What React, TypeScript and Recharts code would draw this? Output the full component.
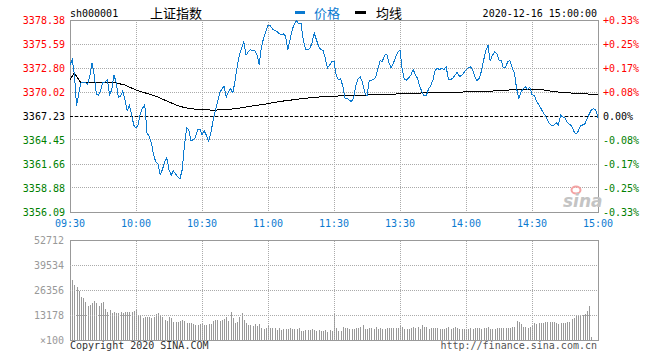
import {
  LineChart,
  Line,
  ComposedChart,
  Bar,
  XAxis,
  YAxis,
  CartesianGrid,
  ReferenceLine,
  ReferenceArea
} from 'recharts'

const MONO = '"DejaVu Sans Mono", monospace'
const CJK = '"Noto Sans CJK SC", sans-serif'
const BLUE = '#0b7ad0'
const RED = '#ff0000'
const GREEN = '#008000'
const GRID = '#aaa'
const FRAME = '#999'

const PREV_CLOSE = 3367.23

// minute index: 0 = 09:30, 120 = 11:30 / 13:00, 240 = 15:00
const TIME_TICKS = [0, 30, 60, 90, 120, 150, 180, 210, 240]
const TIME_LABELS = ['09:30', '10:00', '10:30', '11:00', '11:30', '13:30', '14:00', '14:30', '15:00']

const PRICE_TICKS = [3356.09, 3358.88, 3361.66, 3364.45, 3367.23, 3370.02, 3372.8, 3375.59, 3378.38]
const PCT_LABELS = ['-0.33%', '-0.25%', '-0.17%', '-0.08%', '0.00%', '+0.08%', '+0.17%', '+0.25%', '+0.33%']

const VOL_TICKS = [0, 13178, 26356, 39534, 52712]
const VOL_LABELS = ['×100', '13178', '26356', '39534', '52712']

const PRICE = [
  3373.19, 3373.77, 3372.03, 3368.4, 3369.91, 3371.07, 3371.18, 3371.18, 3370.87, 3371.84,
  3373.39, 3372.03, 3369.71, 3369.64, 3370.29, 3371.18, 3371.18, 3371.45, 3369.71, 3370.29,
  3372.03, 3371.07, 3369.41, 3369.52, 3370.17, 3369.13, 3367.85, 3368.43, 3367.39, 3366.16,
  3365.84, 3366.22, 3367.58, 3368.16, 3368.55, 3365.26, 3364.88, 3364.1, 3362.74, 3361.89,
  3361.66, 3360.42, 3361.0, 3361.89, 3362.36, 3361.0, 3360.35, 3360.88, 3360.5, 3360.19,
  3359.96, 3361.0, 3363.72, 3365.84, 3365.64, 3364.37, 3364.48, 3364.76, 3365.64, 3365.73,
  3365.06, 3365.53, 3364.99, 3364.3, 3365.26, 3366.62, 3367.85, 3368.74, 3369.91, 3370.37,
  3370.68, 3369.41, 3370.02, 3370.4, 3369.91, 3371.26, 3373.0, 3374.35, 3375.13, 3375.91,
  3374.28, 3374.66, 3374.93, 3374.82, 3374.86, 3374.35, 3373.19, 3375.21, 3376.29, 3376.99,
  3377.76, 3377.76, 3377.34, 3377.14, 3377.07, 3376.79, 3376.67, 3376.75, 3376.49, 3374.93,
  3376.09, 3377.25, 3377.92, 3378.3, 3377.92, 3378.03, 3376.09, 3375.01, 3374.93, 3375.05,
  3375.71, 3376.87, 3376.09, 3375.33, 3374.93, 3374.86, 3373.97, 3372.81, 3373.12, 3373.59,
  3373.59, 3371.96, 3371.45, 3371.57, 3370.68, 3369.32, 3369.32, 3369.01, 3368.94, 3369.41,
  3370.87, 3371.57, 3371.76, 3371.07, 3369.91, 3369.52, 3371.38, 3371.41, 3371.45, 3371.8,
  3372.81, 3373.65, 3373.59, 3374.28, 3374.4, 3373.39, 3372.81, 3373.39, 3374.05, 3374.66,
  3374.93, 3372.61, 3371.45, 3371.41, 3371.65, 3372.03, 3372.61, 3372.03, 3371.57, 3370.68,
  3370.02, 3369.59, 3369.64, 3370.4, 3370.75, 3371.45, 3372.54, 3372.77, 3372.61, 3372.81,
  3372.61, 3372.96, 3371.45, 3371.45, 3371.65, 3371.99, 3372.31, 3371.84, 3371.91, 3372.26,
  3372.61, 3372.84, 3372.96, 3372.61, 3371.84, 3371.33, 3371.61, 3372.42, 3373.7, 3374.82,
  3375.44, 3373.59, 3374.28, 3374.66, 3374.47, 3373.74, 3373.65, 3372.81, 3372.92, 3373.54,
  3373.65, 3372.81, 3372.23, 3370.4, 3369.32, 3370.02, 3370.4, 3370.6, 3370.33, 3370.6,
  3369.71, 3369.64, 3369.01, 3368.55, 3368.16, 3367.66, 3367.32, 3366.81, 3366.34, 3366.07,
  3366.16, 3366.46, 3366.22, 3367.35, 3367.12, 3367.0, 3366.54, 3366.27, 3366.11, 3365.46,
  3365.15, 3365.46, 3366.07, 3366.19, 3366.31, 3366.89, 3367.47, 3367.97, 3368.08, 3367.93,
  3367.0
]

const AVG_MIN = [
  0, 2, 5, 10, 15, 20, 25, 30, 35, 40, 45, 50, 55, 60, 65, 70, 75, 80, 85, 90, 95, 100, 105, 110, 115,
  120, 125, 130, 135, 140, 145, 150, 155, 160, 165, 170, 175, 180, 185, 190, 195, 200, 205, 210, 215,
  220, 225, 230, 235, 240
]
const AVG_VAL = [
  3371.45, 3372.23, 3371.07, 3371.18, 3371.18, 3371.12, 3370.83, 3370.25, 3369.85, 3369.44,
  3368.86, 3368.34, 3368.07, 3367.98, 3367.91, 3367.97, 3368.07, 3368.28, 3368.48, 3368.67,
  3368.91, 3369.07, 3369.23, 3369.37, 3369.48, 3369.52, 3369.61, 3369.65, 3369.67, 3369.7,
  3369.75, 3369.81, 3369.86, 3369.91, 3369.93, 3369.96, 3370.0, 3370.03, 3370.08, 3370.11,
  3370.17, 3370.26, 3370.29, 3370.29, 3370.28, 3370.06, 3369.95, 3369.87, 3369.79, 3369.77
]

// volume in lots of 100, one bar per minute
const VOLUME = [
  52712, 31627, 28992, 27674, 25829, 22666, 22139, 20031, 17659, 18449,
  19662, 20558, 19503, 17922, 19345, 20031, 16341, 14918, 15814, 14390,
  14918, 14074, 14390, 14601, 14390, 14601, 14812, 14601, 14601, 15023,
  15814, 13178, 13178, 11439, 11966, 12387, 11966, 11860, 12124, 13705,
  14232, 12651, 11966, 10542, 10173, 11966, 11597, 9646, 9646, 9225,
  10015, 10542, 10015, 9119, 9119, 8803, 8434, 8170, 8065, 8592,
  9119, 7907, 7907, 8276, 8434, 9752, 10279, 10384, 10173, 10542,
  11333, 12124, 9752, 14918, 11439, 8803, 9488, 12124, 14074, 10279,
  8961, 7907, 8065, 7222, 8434, 7222, 8434, 6325, 5956, 6589,
  7643, 6325, 6325, 6325, 5429, 6325, 5429, 5956, 5798, 5640,
  6325, 5535, 5956, 5956, 6325, 4902, 4586, 5429, 5429, 5113,
  5798, 5429, 4586, 5113, 4902, 4586, 5113, 4217, 5429, 4586,
  14390, 6484, 4902, 4902, 6853, 6167, 6484, 5956, 5640, 5798,
  6167, 6484, 6853, 7749, 5640, 5956, 6167, 6167, 5956, 6694,
  5640, 6325, 5640, 5956, 6167, 6484, 6484, 6484, 6484, 6589,
  7538, 6694, 5956, 5640, 5956, 6167, 6853, 6325, 6694, 5640,
  7907, 7011, 6694, 5956, 6484, 6167, 6325, 6167, 5798, 5798,
  5535, 6325, 7011, 5956, 6167, 6694, 6484, 5798, 5956, 5798,
  5429, 5956, 6167, 5956, 6167, 6484, 6325, 5956, 6167, 6484,
  6694, 5956, 5640, 5956, 6167, 6484, 6484, 6167, 6484, 6167,
  6325, 6853, 7011, 10173, 9646, 8276, 7011, 6694, 6484, 6694,
  7380, 8803, 8276, 8803, 8803, 9119, 9646, 9646, 9646, 9646,
  9488, 8803, 8434, 8803, 8803, 9119, 9646, 9646, 10806, 11860,
  12914, 13178, 13178, 13178, 13705, 15445, 17922, 1740
]

const data = PRICE.map((price, m) => {
  const a = AVG_MIN.indexOf(m)
  return {
    m,
    price,
    avg: a >= 0 ? AVG_VAL[a] : null,
    vol: m < VOLUME.length ? VOLUME[m] : null
  }
})

const priceColor = (v: number) =>
  Math.abs(v - PREV_CLOSE) < 0.001 ? '#000' : v > PREV_CLOSE ? RED : GREEN

const LeftTick = ({ x, y, payload }: any) => (
  <text x={x - 5} y={y} dy={3.6} textAnchor="end" fontSize={10} fontFamily={MONO} fill={priceColor(payload.value)}>
    {payload.value.toFixed(2)}
  </text>
)

const RightTick = ({ x, y, payload }: any) => (
  <text x={x + 5} y={y} dy={3.6} textAnchor="start" fontSize={10} fontFamily={MONO} fill={priceColor(payload.value)}>
    {PCT_LABELS[PRICE_TICKS.indexOf(payload.value)]}
  </text>
)

const TimeTick = ({ x, y, payload }: any) => (
  <text x={x} y={y} dy={15.4} textAnchor="middle" fontSize={10} fontFamily={MONO} fill={BLUE}>
    {TIME_LABELS[TIME_TICKS.indexOf(payload.value)]}
  </text>
)

const VolTick = ({ x, y, payload }: any) => (
  <text x={x - 6} y={y} dy={3.6} textAnchor="end" fontSize={10} fontFamily={MONO} fill="#999">
    {VOL_LABELS[VOL_TICKS.indexOf(payload.value)]}
  </text>
)

const VolBar = (p: any) =>
  p.height > 0 ? (
    <rect x={Math.round(p.x + p.width / 2 - 0.5)} y={p.y} width={1} height={p.height} fill="#999" />
  ) : null

export default function App() {
  const minP = PRICE_TICKS[0]
  const maxP = PRICE_TICKS[PRICE_TICKS.length - 1]
  return (
    <div className="sina-chart" style={{ position: 'absolute', left: 0, top: 0, width: 660, height: 360, background: '#fff' }}>
      <style>{`.sina-chart svg path, .sina-chart svg line, .sina-chart svg rect { shape-rendering: crispEdges; }`}</style>

      <div style={{ position: 'absolute', left: 0, top: 0 }}>
        <LineChart width={660} height={360} data={data} margin={{ top: 20, right: 0, left: 0, bottom: 128 }}>
          <CartesianGrid stroke={GRID} strokeDasharray="1 1" />
          <XAxis
            dataKey="m"
            type="number"
            domain={[0, 240]}
            ticks={TIME_TICKS}
            interval={0}
            height={20}
            axisLine={false}
            tickLine={false}
            tickSize={0}
            tickMargin={0}
            tick={<TimeTick />}
          />
          <YAxis
            domain={[minP, maxP]}
            ticks={PRICE_TICKS}
            interval={0}
            width={70}
            allowDataOverflow
            axisLine={false}
            tickLine={false}
            tickSize={0}
            tickMargin={0}
            tick={<LeftTick />}
          />
          <YAxis
            yAxisId="r"
            orientation="right"
            domain={[minP, maxP]}
            ticks={PRICE_TICKS}
            interval={0}
            width={62}
            allowDataOverflow
            axisLine={false}
            tickLine={false}
            tickSize={0}
            tickMargin={0}
            tick={<RightTick />}
          />
          <ReferenceLine y={PREV_CLOSE} stroke="#000" strokeDasharray="3 2" />
          <ReferenceArea x1={0} x2={240} y1={minP} y2={maxP} fill="none" stroke={FRAME} />
          <Line dataKey="avg" stroke="#000" strokeWidth={1} dot={false} connectNulls isAnimationActive={false} />
          <Line dataKey="price" stroke={BLUE} strokeWidth={1} dot={false} isAnimationActive={false} />
        </LineChart>
      </div>

      <div style={{ position: 'absolute', left: 0, top: 0 }}>
        <ComposedChart width={660} height={360} data={data} margin={{ top: 240, right: 62, left: 0, bottom: 20 }}>
          <XAxis dataKey="m" type="number" domain={[0, 240]} hide />
          <YAxis
            domain={[0, 52712]}
            ticks={VOL_TICKS}
            interval={0}
            width={70}
            axisLine={false}
            tickLine={false}
            tickSize={0}
            tickMargin={0}
            tick={<VolTick />}
          />
          {VOL_TICKS.slice(1, -1).map(v => (
            <ReferenceLine key={'h' + v} y={v} stroke={GRID} strokeDasharray="1 1" />
          ))}
          {TIME_TICKS.slice(1, -1).map(t => (
            <ReferenceLine key={'v' + t} x={t} stroke={GRID} strokeDasharray="1 1" />
          ))}
          <ReferenceArea x1={0} x2={240} y1={0} y2={52712} fill="none" stroke={FRAME} />
          <Bar dataKey="vol" barSize={1} shape={<VolBar />} isAnimationActive={false} />
        </ComposedChart>
      </div>

      <svg width={660} height={360} style={{ position: 'absolute', left: 0, top: 0, pointerEvents: 'none' }}>
        <text x={70} y={16.5} fontSize={10} fontFamily={MONO} fill="#000">sh000001</text>
        <text x={150} y={17.5} fontSize={13} fontFamily={CJK} fill="#000">上证指数</text>
        <rect x={295} y={11} width={10} height={3} fill={BLUE} />
        <text x={314} y={17.5} fontSize={13} fontFamily={CJK} fill={BLUE}>价格</text>
        <rect x={355} y={11} width={11} height={3} fill="#000" />
        <text x={376} y={17.5} fontSize={13} fontFamily={CJK} fill="#000">均线</text>
        <text x={597} y={16.5} textAnchor="end" fontSize={10} fontFamily={MONO} fill="#000">2020-12-16 15:00:00</text>
        <text x={70} y={349} fontSize={10} fontFamily={MONO} fill="#333">Copyright 2020 SINA.COM</text>
        <text x={597} y={349} textAnchor="end" fontSize={10} fontFamily={MONO} fill="#555">http://finance.sina.com.cn</text>
        <ellipse cx={576} cy={190} rx={4.5} ry={3.5} fill="none" stroke="#f4a3a3" strokeWidth={2} />
        <text x={563} y={207} fontSize={17} fontStyle="italic" fontWeight="bold" fontFamily="DejaVu Sans" fill="#c4c4c4">sina</text>
      </svg>
    </div>
  )
}
